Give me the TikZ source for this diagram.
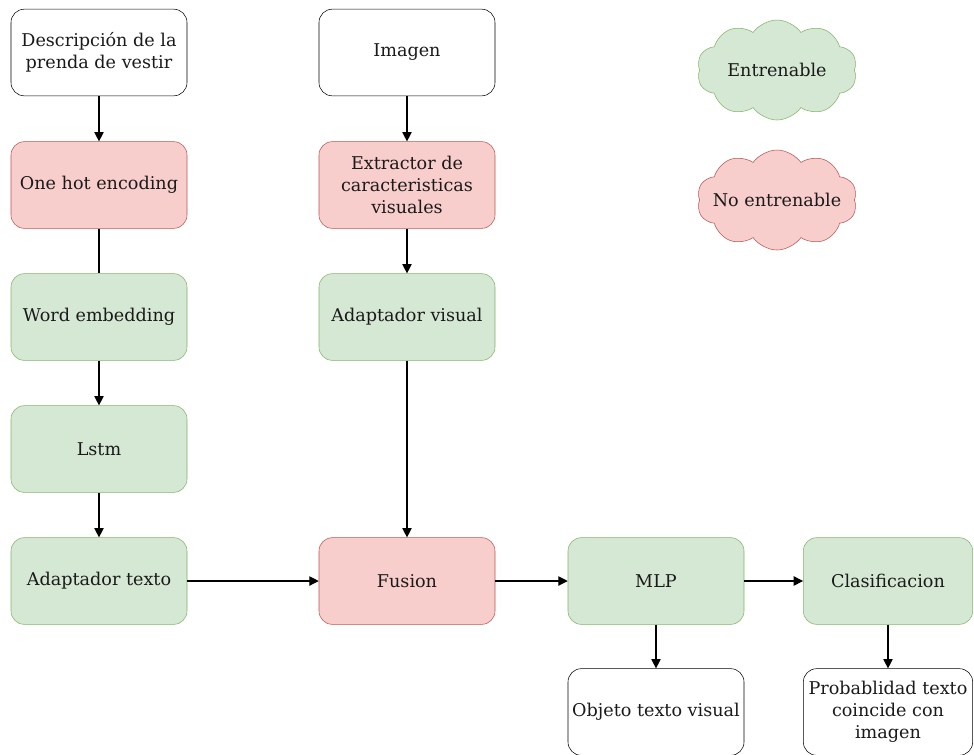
\documentclass[tikz,border=0pt]{standalone}
\usepackage{fontspec}
\setmainfont{DejaVu Serif}
\usetikzlibrary{arrows.meta,shapes.symbols}
\definecolor{greenfill}{HTML}{D5E8D4}
\definecolor{greendraw}{HTML}{82B366}
\definecolor{redfill}{HTML}{F8CECC}
\definecolor{reddraw}{HTML}{B85450}
\definecolor{textgray}{HTML}{1A1A1A}
\tikzset{
  block/.style={draw, rounded corners=10pt, minimum width=132pt, minimum height=65pt,
    inner sep=1pt, align=center, text=textgray, font=\fontsize{13.2}{16.5}\selectfont},
  plainblock/.style={block, draw=black, fill=white},
  trainblock/.style={block, draw=greendraw, fill=greenfill},
  frozenblock/.style={block, draw=reddraw, fill=redfill},
  legendcloud/.style={cloud, cloud puffs=10, cloud puff arc=110, aspect=1.6,
    minimum width=120pt, minimum height=75pt, inner sep=0pt,
    label={[text=textgray, font=\fontsize{13.2}{16.5}\selectfont]center:#1}},
  link/.style={-{Triangle[length=7pt,width=7pt]}, line width=0.8pt},
}
\begin{document}
\begin{tikzpicture}[x=0.75pt,y=0.75pt,yscale=-1]
\useasboundingbox (0,0) rectangle (974,754);

%Text branch
\node[plainblock] (desc) at (99,52.5) {Descripción de la\\prenda de vestir};
\node[frozenblock] (onehot) at (99,185) {One hot encoding};
\node[trainblock] (wordemb) at (99,317) {Word embedding};
\node[trainblock] (lstm) at (99,449) {Lstm};
\node[trainblock] (adtexto) at (99,581) {Adaptador texto};

%Image branch
\node[plainblock] (imagen) at (407,52.5) {Imagen};
\node[frozenblock] (extractor) at (407,185) {Extractor de\\caracteristicas\\visuales};
\node[trainblock] (advisual) at (407,317) {Adaptador visual};

%Fusion and heads
\node[frozenblock] (fusion) at (407,581) {Fusion};
\node[trainblock] (mlp) at (656,581) {MLP};
\node[trainblock, minimum width=127pt] (clasif) at (888,581) {Clasificacion};
\node[plainblock] (objeto) at (656,712) {Objeto texto visual};
\node[plainblock, minimum width=127pt] (prob) at (888,712) {Probablidad texto\\coincide con\\imagen};

%Legend
\node[legendcloud=Entrenable, draw=greendraw, fill=greenfill] (entrenable) at (777,70) {};
\node[legendcloud=No entrenable, draw=reddraw, fill=redfill] (noentrenable) at (777,200) {};

%Connectors
\draw[link] (desc) -- (onehot);
\draw[line width=0.8pt] (onehot) -- (wordemb);
\draw[link] (wordemb) -- (lstm);
\draw[link] (lstm) -- (adtexto);
\draw[link] (imagen) -- (extractor);
\draw[link] (extractor) -- (advisual);
\draw[link] (advisual) -- (fusion);
\draw[link] (adtexto) -- (fusion);
\draw[link] (fusion) -- (mlp);
\draw[link] (mlp) -- (clasif);
\draw[link] (mlp) -- (objeto);
\draw[link] (clasif) -- (prob);

\end{tikzpicture}
\end{document}
